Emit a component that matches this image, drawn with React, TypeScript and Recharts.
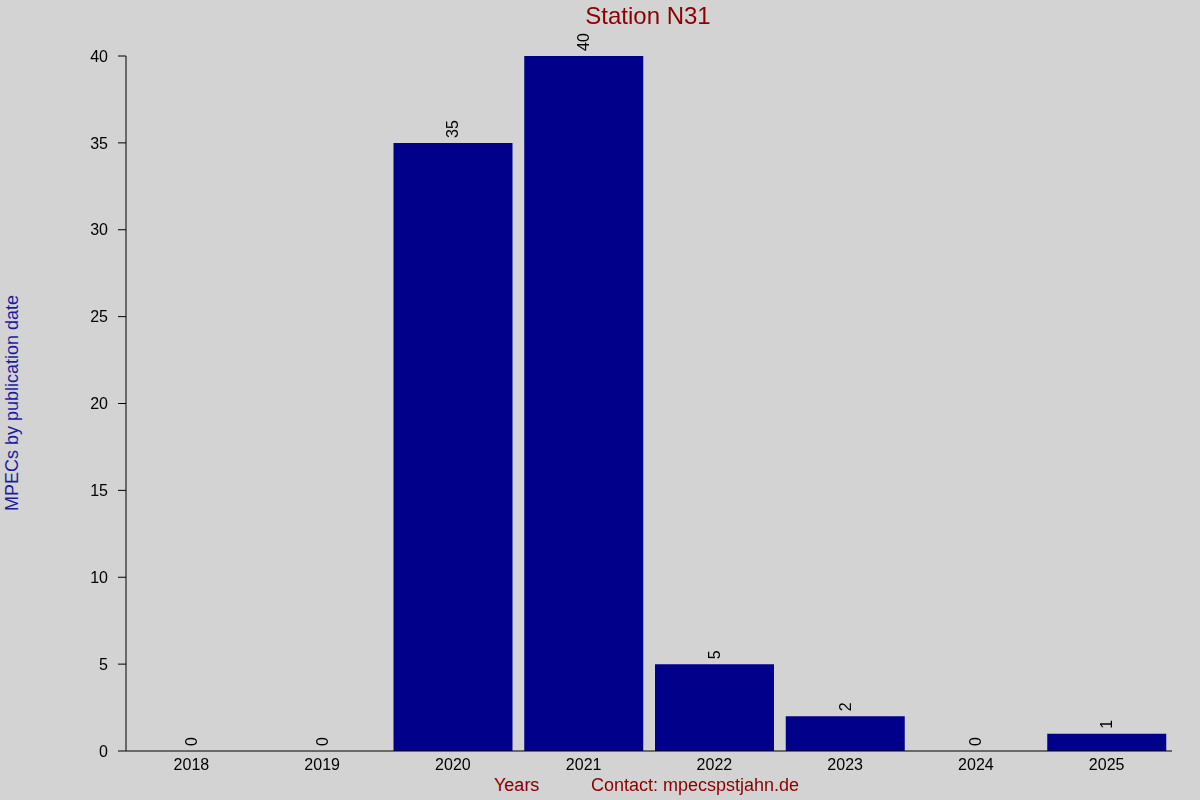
import React from "react"
import { ComposedChart, Bar, Line, XAxis, YAxis } from "recharts"

const years = ["2018", "2019", "2020", "2021", "2022", "2023", "2024", "2025"]
const counts = [0, 0, 35, 40, 5, 2, 0, 1]
const yTicks = [0, 5, 10, 15, 20, 25, 30, 35, 40]

const data = years.map((year, i) => ({ year, count: counts[i] }))

const FONT = "'Liberation Sans', Arial, sans-serif"

// value printed sideways just above each bar (also for zero bars)
const VerticalLabel = (props: any) => {
  const { x, y, value } = props
  const ty = y - 5
  return (
    <text
      x={x}
      y={ty}
      transform={`rotate(-90 ${x} ${ty})`}
      textAnchor="start"
      dominantBaseline="central"
      fontSize={16}
      fontFamily={FONT}
      fill="#000"
    >
      {value}
    </text>
  )
}

export default function App() {
  return (
    <div
      style={{
        position: "fixed",
        top: 0,
        left: 0,
        width: 1200,
        height: 800,
        background: "#d3d3d3",
        fontFamily: FONT,
      }}
    >
      <div
        style={{
          position: "absolute",
          top: 2,
          left: 0,
          width: 1296,
          textAlign: "center",
          fontSize: 24,
          color: "#8b0000",
        }}
      >
        Station N31
      </div>
      <div
        style={{
          position: "absolute",
          left: 12,
          top: 403,
          transform: "translate(-50%, -50%) rotate(-90deg)",
          whiteSpace: "nowrap",
          fontSize: 18,
          color: "#1c1ca0",
        }}
      >
        MPECs by publication date
      </div>
      <div style={{ position: "absolute", left: 494, top: 775, fontSize: 18, color: "#8b0000" }}>Years</div>
      <div style={{ position: "absolute", left: 591, top: 775, fontSize: 18, color: "#8b0000" }}>
        Contact: mpecspstjahn.de
      </div>
      <ComposedChart
        width={1200}
        height={800}
        data={data}
        margin={{ top: 56, right: 28, bottom: 0, left: 0 }}
        barCategoryGap={6}
        style={{ position: "absolute", top: 0, left: 0 }}
      >
        <XAxis
          dataKey="year"
          height={49}
          axisLine={{ stroke: "#000", strokeWidth: 1 }}
          tickLine={false}
          tickMargin={2}
          tick={{ fill: "#000", fontSize: 16, fontFamily: FONT }}
        />
        <XAxis
          dataKey="year"
          xAxisId="top"
          orientation="top"
          height={0}
          axisLine={false}
          tick={false}
          tickSize={1}
          tickLine={{ stroke: "#000" }}
        />
        <YAxis
          width={126}
          domain={[0, 40]}
          ticks={yTicks}
          interval={0}
          axisLine={{ stroke: "#000", strokeWidth: 1 }}
          tickLine={{ stroke: "#000" }}
          tickSize={8}
          tickMargin={10}
          tick={{ fill: "#000", fontSize: 16, fontFamily: FONT }}
        />
        <Bar dataKey="count" fill="#00008b" isAnimationActive={false} />
        <Line
          dataKey="count"
          stroke="none"
          dot={false}
          activeDot={false}
          isAnimationActive={false}
          label={<VerticalLabel />}
        />
      </ComposedChart>
    </div>
  )
}
